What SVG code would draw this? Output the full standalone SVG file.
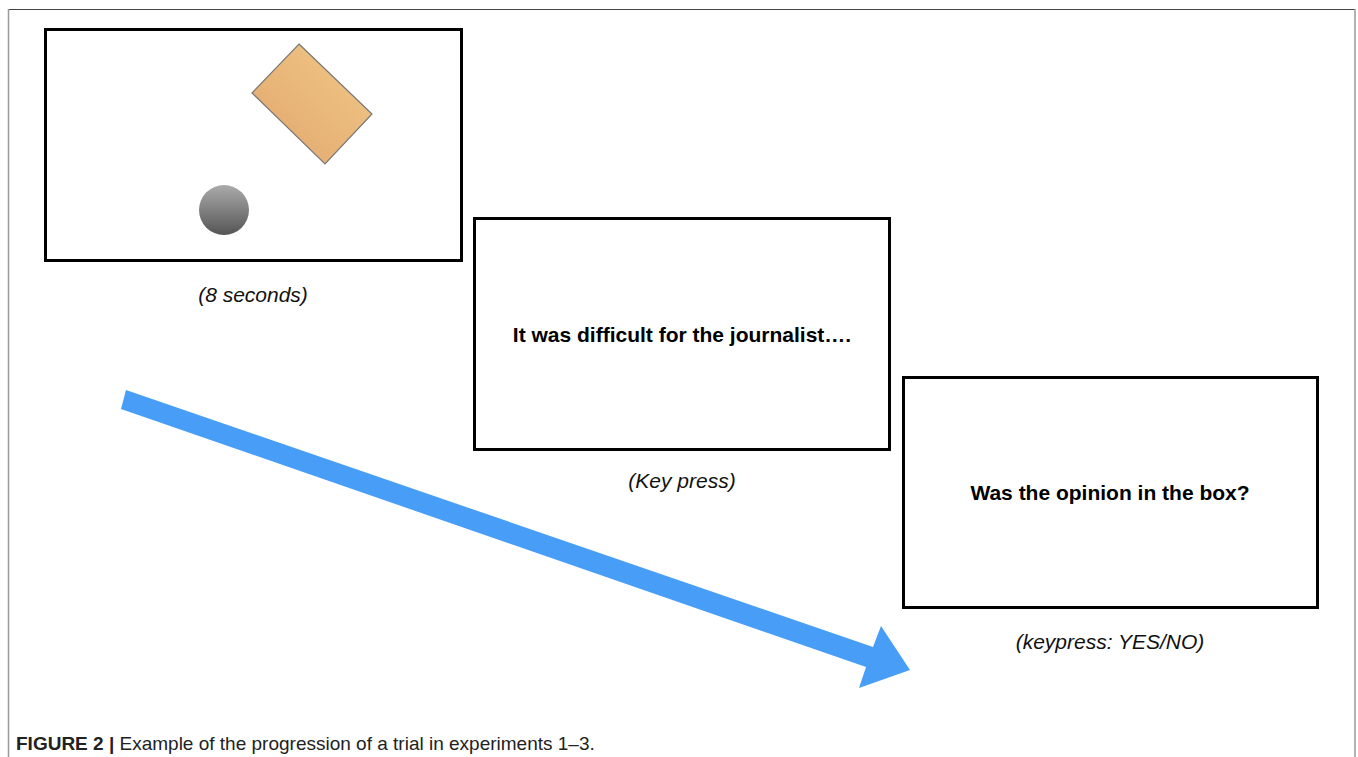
<svg xmlns="http://www.w3.org/2000/svg" width="1358" height="757" viewBox="0 0 1358 757">
<defs>
<style>
.screen{fill:#fff;stroke:#000;stroke-width:3}
.stim{font-family:"Liberation Sans",Arial,sans-serif;font-weight:bold;font-size:21px;fill:#000;text-anchor:middle}
.cap{font-family:"Liberation Sans",Arial,sans-serif;font-style:italic;font-size:21px;fill:#111;text-anchor:middle}
.fig{font-family:"Liberation Sans",Arial,sans-serif;font-size:19px;fill:#222}
</style>
<linearGradient id="orange" x1="1" y1="0" x2="0" y2="1">
<stop offset="0" stop-color="#f0c886"/>
<stop offset="1" stop-color="#e2a66e"/>
</linearGradient>
<linearGradient id="ball" x1="0" y1="0" x2="0" y2="1">
<stop offset="0" stop-color="#ababab"/>
<stop offset="1" stop-color="#555"/>
</linearGradient>
</defs>
<rect width="1358" height="757" fill="#fff"/>
<g id="frame" fill="none">
<line x1="8" y1="9.5" x2="1355" y2="9.5" stroke="#444" stroke-width="1.2"/>
<line x1="8.5" y1="9" x2="8.5" y2="757" stroke="#999" stroke-width="1.5"/>
<line x1="1355" y1="9" x2="1355" y2="757" stroke="#999" stroke-width="1.5"/>
</g>
<g id="screen1">
<rect class="screen" x="45.5" y="29.5" width="416" height="231"/>
<polygon points="299,44 372,114 325,164 252,93" fill="url(#orange)" stroke="#777" stroke-width="1.2"/>
<circle cx="224" cy="210" r="25" fill="url(#ball)"/>
<text class="cap" x="253" y="302">(8 seconds)</text>
</g>
<g id="screen2">
<rect class="screen" x="474.5" y="218.5" width="415" height="231"/>
<text class="stim" x="682" y="342">It was difficult for the journalist….</text>
<text class="cap" x="682" y="488">(Key press)</text>
</g>
<g id="screen3">
<rect class="screen" x="903.5" y="377.5" width="414" height="230"/>
<text class="stim" x="1110" y="500">Was the opinion in the box?</text>
<text class="cap" x="1110" y="649">(keypress: YES/NO)</text>
</g>
<g id="connectors">
<polygon points="126,390 873,647 881,626 910,670 859,688 866,667 121,409" fill="#489ef7"/>
</g>
<g id="caption">
<text class="fig" x="16" y="750"><tspan font-weight="bold">FIGURE 2 |</tspan> Example of the progression of a trial in experiments 1–3.</text>
</g>
</svg>
